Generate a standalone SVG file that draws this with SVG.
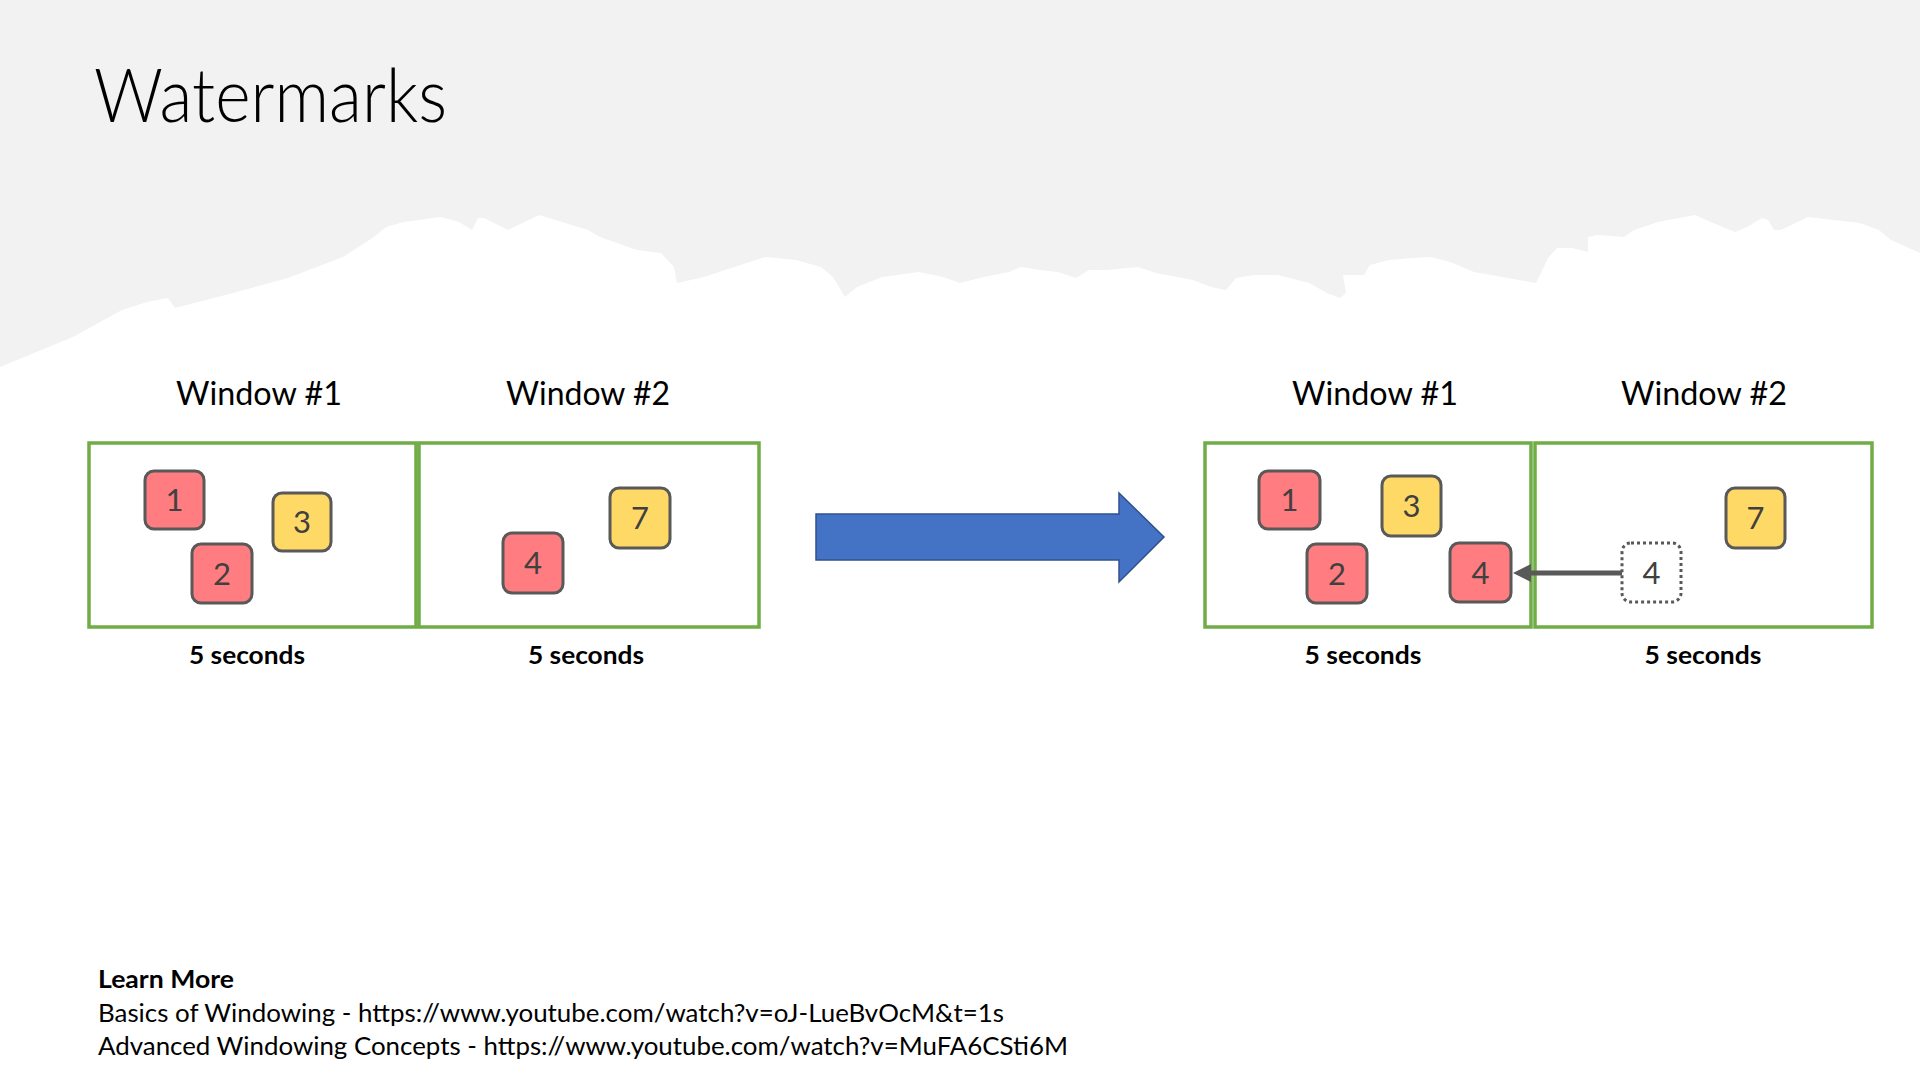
<svg xmlns="http://www.w3.org/2000/svg" width="1920" height="1080" viewBox="0 0 1920 1080">
<defs>
<style>
.t{font-family:Lato,"Liberation Sans",sans-serif;fill:#000}
.title{font-size:74px;font-weight:300}
.win{font-size:32px;text-anchor:middle}
.sec{font-size:25px;font-weight:700;text-anchor:middle}
.num{font-family:Lato,"Liberation Sans",sans-serif;font-size:31px;fill:#404040;text-anchor:middle}
.foot{font-size:25px}
.box{fill:none;stroke:#70AD47;stroke-width:3.5}
.red{fill:#FF7C80;stroke:#595959;stroke-width:3}
.yel{fill:#FFD966;stroke:#595959;stroke-width:3}
.dot{fill:#fff;stroke:#595959;stroke-width:3;stroke-dasharray:3 3}
</style>
<marker id="ah" viewBox="0 0 18 18" refX="2" refY="9" markerWidth="18" markerHeight="18" markerUnits="userSpaceOnUse" orient="auto">
<path d="M0,0 L18,9 L0,18 z" fill="#595959"/>
</marker>
</defs>
<rect x="0" y="0" width="1920" height="1080" fill="#fff"/>
<path fill="#F2F2F2" d="M0,367 L73,337 L122,310 L147,302 L168,298 L175,308 L233,293 L288,278 L343,257 L374,237 L386,227 L404,222 L441,217 L459,222 L472,230 L478,218 L484,218 L508,230 L539,215 L588,230 L600,237 L631,248 L637,250 L661,253 L674,267 L677,283 L704,277 L765,257 L796,260 L821,267 L833,277 L845,297 L857,287 L882,277 L919,272 L943,277 L960,283 L984,277 L1009,272 L1021,267 L1040,270 L1058,272 L1067,275 L1076,278 L1089,270 L1107,270 L1138,267 L1156,273 L1193,280 L1211,287 L1226,290 L1236,278 L1254,275 L1278,275 L1309,283 L1327,293 L1340,298 L1346,293 L1343,275 L1364,275 L1370,265 L1389,260 L1413,258 L1431,257 L1450,262 L1474,272 L1536,283 L1548,258 L1557,248 L1572,248 L1588,252 L1588,237 L1597,235 L1624,237 L1634,230 L1658,222 L1695,215 L1713,223 L1735,232 L1747,227 L1762,218 L1768,220 L1774,230 L1781,230 L1808,217 L1860,223 L1879,230 L1891,240 L1920,253 L1920,0 L0,0 Z"/>
<text class="t title" x="94" y="122" textLength="353" lengthAdjust="spacingAndGlyphs">Watermarks</text>

<g id="left-window1">
<text class="t win" x="259" y="405" textLength="166" lengthAdjust="spacingAndGlyphs">Window #1</text>
<rect class="box" x="89" y="443" width="327" height="184"/>
<text class="t sec" x="247" y="664" textLength="116" lengthAdjust="spacingAndGlyphs">5 seconds</text>
</g>
<g id="left-window2">
<text class="t win" x="588" y="405" textLength="164" lengthAdjust="spacingAndGlyphs">Window #2</text>
<rect class="box" x="419" y="443" width="340" height="184"/>
<text class="t sec" x="586" y="664" textLength="116" lengthAdjust="spacingAndGlyphs">5 seconds</text>
</g>
<g id="left-e1"><rect class="red" x="145" y="471" width="59" height="58" rx="9"/><text class="num" x="174.5" y="511">1</text></g>
<g id="left-e3"><rect class="yel" x="273" y="493" width="58" height="58" rx="9"/><text class="num" x="302" y="533">3</text></g>
<g id="left-e2"><rect class="red" x="192" y="544" width="60" height="59" rx="9"/><text class="num" x="222" y="585">2</text></g>
<g id="left-e4"><rect class="red" x="503" y="533" width="60" height="60" rx="9"/><text class="num" x="533" y="574">4</text></g>
<g id="left-e7"><rect class="yel" x="610" y="488" width="60" height="60" rx="9"/><text class="num" x="640" y="529">7</text></g>

<g id="transition-arrow">
<polygon points="816,514 1119,514 1119,493 1164,537 1119,582 1119,560 816,560" fill="#4472C4" stroke="#2F528F" stroke-width="1.5"/>
</g>

<g id="right-window1">
<text class="t win" x="1375" y="405" textLength="166" lengthAdjust="spacingAndGlyphs">Window #1</text>
<rect class="box" x="1205" y="443" width="326" height="184"/>
<text class="t sec" x="1363" y="664" textLength="117" lengthAdjust="spacingAndGlyphs">5 seconds</text>
</g>
<g id="right-window2">
<text class="t win" x="1704" y="405" textLength="166" lengthAdjust="spacingAndGlyphs">Window #2</text>
<rect class="box" x="1535" y="443" width="337" height="184"/>
<text class="t sec" x="1703" y="664" textLength="117" lengthAdjust="spacingAndGlyphs">5 seconds</text>
</g>
<g id="right-e1"><rect class="red" x="1259" y="471" width="61" height="58" rx="9"/><text class="num" x="1289.5" y="511">1</text></g>
<g id="right-e3"><rect class="yel" x="1382" y="476" width="59" height="60" rx="9"/><text class="num" x="1411.5" y="517">3</text></g>
<g id="right-e2"><rect class="red" x="1307" y="544" width="60" height="59" rx="9"/><text class="num" x="1337" y="585">2</text></g>
<g id="right-e4"><rect class="red" x="1450" y="543" width="61" height="59" rx="9"/><text class="num" x="1480.5" y="584">4</text></g>
<g id="right-e4-late"><rect class="dot" x="1622" y="543" width="59" height="59" rx="9"/><text class="num" x="1651.5" y="584">4</text></g>
<g id="right-e7"><rect class="yel" x="1726" y="488" width="59" height="60" rx="9"/><text class="num" x="1755.5" y="529">7</text></g>

<g id="connectors">
<line x1="1622" y1="573" x2="1529" y2="573" stroke="#595959" stroke-width="5" marker-end="url(#ah)"/>
</g>

<g id="footer">
<text class="t foot" x="98" y="988" font-weight="700" textLength="136" lengthAdjust="spacingAndGlyphs">Learn More</text>
<text class="t foot" x="98" y="1022" textLength="906" lengthAdjust="spacingAndGlyphs">Basics of Windowing - https://www.youtube.com/watch?v=oJ-LueBvOcM&amp;t=1s</text>
<text class="t foot" x="98" y="1055" textLength="970" lengthAdjust="spacingAndGlyphs">Advanced Windowing Concepts - https://www.youtube.com/watch?v=MuFA6CSti6M</text>
</g>
</svg>
